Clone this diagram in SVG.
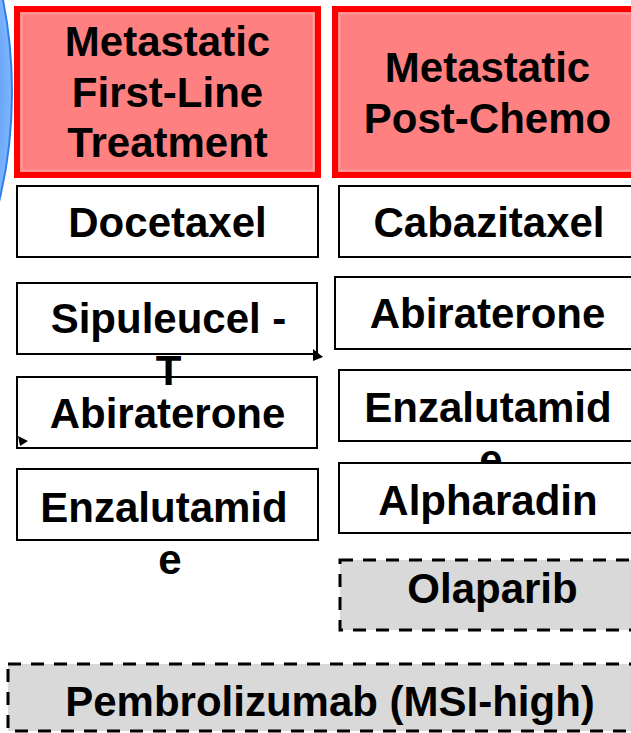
<svg xmlns="http://www.w3.org/2000/svg" width="631" height="733" viewBox="0 0 631 733">
<defs>
<style>
text{font-family:"Liberation Sans",Arial,sans-serif;font-weight:bold;font-size:42px;fill:#000;text-anchor:middle}
.hdr{fill:#FF8080;stroke:#FF0000;stroke-width:6}
.hdr-in{fill:none;stroke:#FF9E9E;stroke-width:1.5}
.box{fill:#FFFFFF;stroke:#000;stroke-width:2}
.dash{fill:#D9D9D9;stroke:#000;stroke-width:3;stroke-dasharray:13 10}
.tip{fill:#000}
</style>
<radialGradient id="blueGrad" cx="0.5" cy="0.5" r="0.5">
<stop offset="0.75" stop-color="#3F82E6"/>
<stop offset="1" stop-color="#7DB6FF"/>
</radialGradient>
</defs>
<rect width="631" height="733" fill="#FFFFFF"/>
<g id="blue-circle">
<ellipse cx="-150" cy="92" rx="162" ry="280" fill="url(#blueGrad)" stroke="#2F7FE6" stroke-width="2"/>
</g>
<g id="header-first-line">
<rect class="hdr" x="17" y="9" width="301" height="166"/>
<rect class="hdr-in" x="21.5" y="13.5" width="292" height="157"/>
<text x="167.5" y="56">Metastatic</text>
<text x="167.5" y="107">First-Line</text>
<text x="167.5" y="157">Treatment</text>
</g>
<g id="header-post-chemo">
<rect class="hdr" x="335" y="9" width="310" height="166"/>
<rect class="hdr-in" x="339.5" y="13.5" width="301" height="157"/>
<text x="487.5" y="82">Metastatic</text>
<text x="487.5" y="133">Post-Chemo</text>
</g>
<g id="docetaxel">
<rect class="box" x="17" y="186" width="301" height="71"/>
<text x="167.5" y="237">Docetaxel</text>
</g>
<g id="cabazitaxel">
<rect class="box" x="339" y="186" width="300" height="71"/>
<text x="489" y="237">Cabazitaxel</text>
</g>
<g id="abiraterone-post">
<rect class="box" x="335" y="277" width="300" height="72"/>
<text x="487.5" y="328">Abiraterone</text>
</g>
<g id="abiraterone-first">
<rect class="box" x="17" y="377" width="300" height="71"/>
<text x="167.5" y="428">Abiraterone</text>
</g>
<g id="sipuleucel">
<rect class="box" x="17" y="283" width="300" height="71"/>
<text x="168.5" y="333">Sipuleucel -</text>
<text x="168.5" y="385">T</text>
</g>
<g id="enzalutamide-first">
<rect class="box" x="17" y="469" width="301" height="71"/>
<text x="164" y="522">Enzalutamid</text>
<text x="170" y="574">e</text>
</g>
<g id="enzalutamide-post">
<rect class="box" x="339" y="370" width="300" height="71"/>
<text x="488" y="422">Enzalutamid</text>
<text x="491" y="474">e</text>
</g>
<g id="alpharadin">
<rect class="box" x="339" y="463" width="300" height="70"/>
<text x="488" y="515">Alpharadin</text>
</g>
<g id="olaparib">
<rect class="dash" x="340" y="560" width="300" height="70"/>
<text x="492.5" y="603">Olaparib</text>
</g>
<g id="pembrolizumab">
<rect class="dash" x="8" y="664" width="632" height="67"/>
<text x="330" y="716">Pembrolizumab (MSI-high)</text>
</g>
<g id="connectors">
<polygon class="tip" points="313,349 323,357 313,361"/>
<polygon class="tip" points="18,436 28,441 20,446"/>
</g>
</svg>
